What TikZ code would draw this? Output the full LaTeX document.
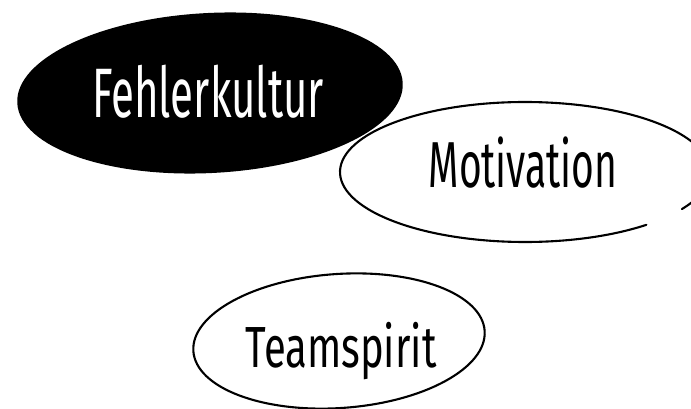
\documentclass[tikz,border=0pt]{standalone}
\usepackage{fontspec}
\newfontfamily\handfont[FakeStretch=0.6]{Fira Sans}
\newfontfamily\handwide[FakeStretch=0.69]{Fira Sans}
\begin{document}
\begin{tikzpicture}[x=1pt,y=-1pt,
  outline/.style={draw=black,line width=2.1pt,line cap=round},
  label/.style={inner sep=0pt,anchor=base},
  blob/.style={fill=black}]
\useasboundingbox (0,0) rectangle (691,409);
\begin{scope}
\clip (0,0) rectangle (691,409);
% Motivation outline (open, hand drawn)
\draw[outline] (525,172) ++(49:185 and 70)
  arc[start angle=49,end angle=350,x radius=185,y radius=70];
\draw[outline] (525,172) ++(15:185 and 70)
  arc[start angle=15,end angle=32,x radius=185,y radius=70];
% Fehlerkultur filled ellipse
\fill[blob,rotate around={3:(210,93)}] (210,93) ellipse[x radius=193,y radius=80];
% Teamspirit outline
\draw[outline,rotate around={4:(339,341)}] (339,341) ellipse[x radius=146,y radius=67];
\end{scope}
\node[label,text=white,font=\handfont\fontsize{70}{70}\selectfont] (fehler) at (208,118) {Fehlerkultur};
\node[label,font=\handfont\fontsize{65}{65}\selectfont] (motiv) at (523,187) {Motivation};
\node[label,font=\handwide\fontsize{58}{58}\selectfont] (team) at (341,367) {Teamspirit};
\end{tikzpicture}
\end{document}
